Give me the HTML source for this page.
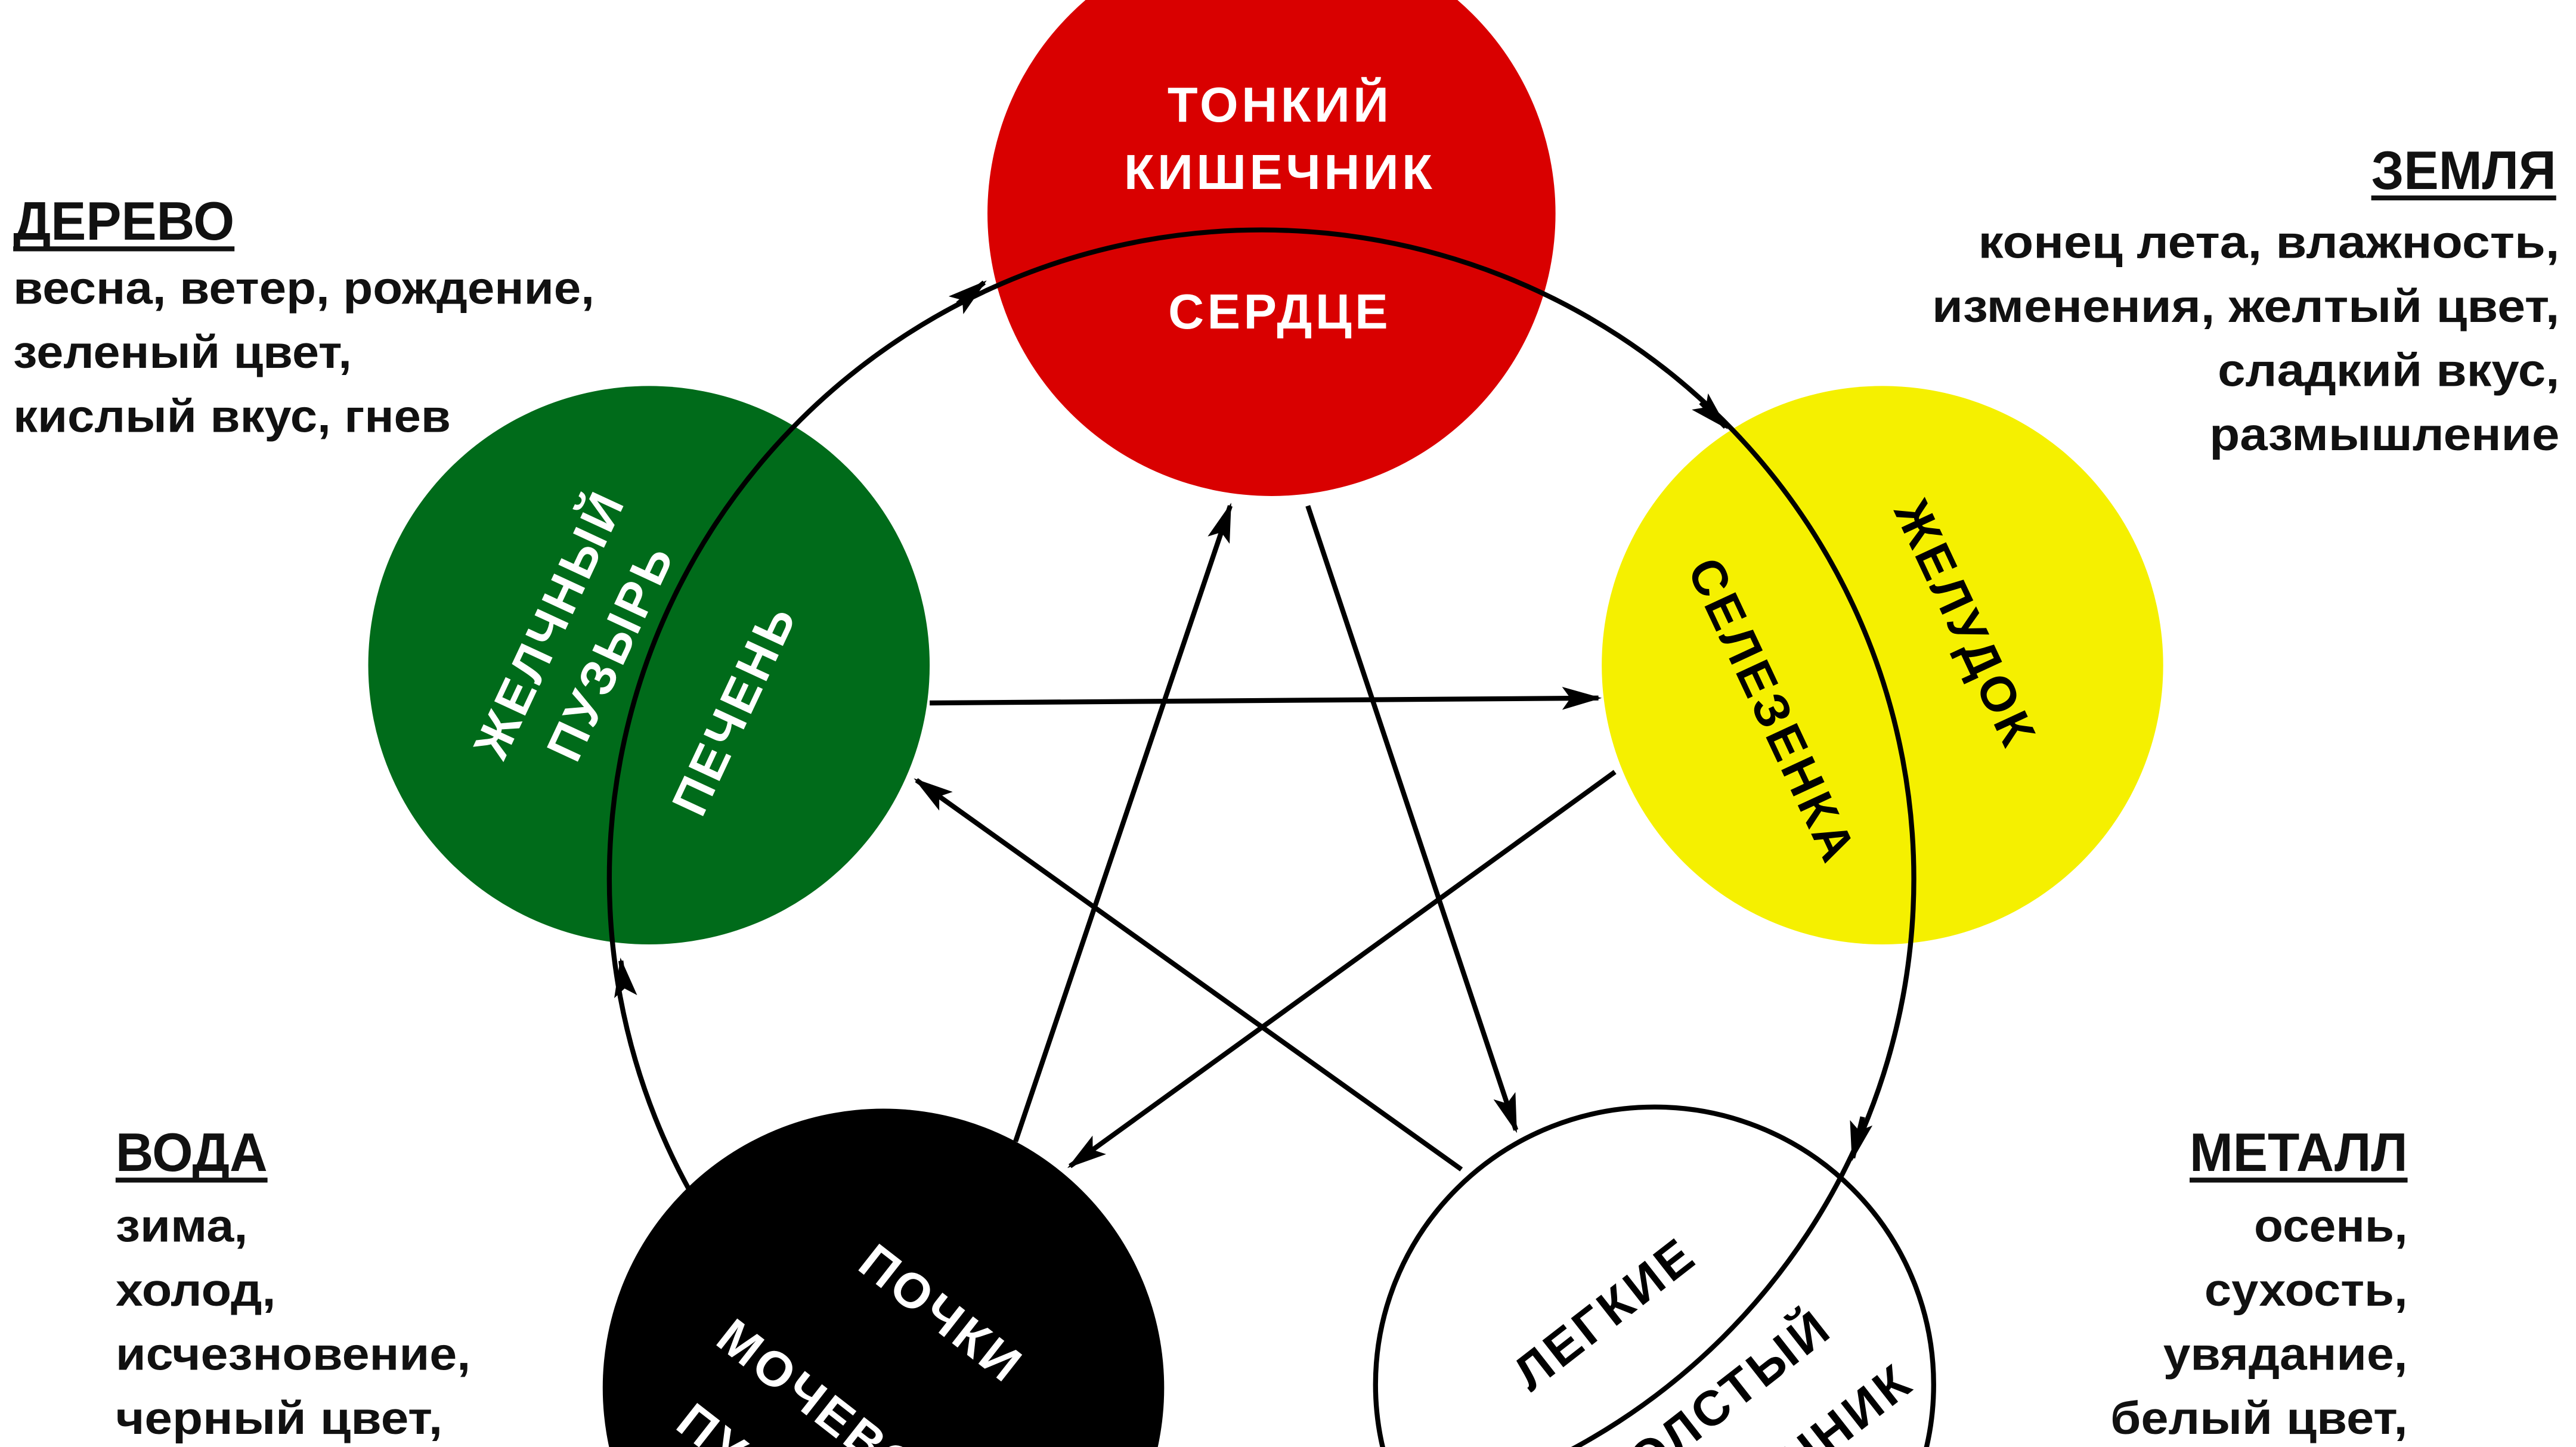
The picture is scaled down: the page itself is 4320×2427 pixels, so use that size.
<!DOCTYPE html>
<html><head><meta charset="utf-8"><style>
html,body{margin:0;padding:0;background:#fff;overflow:hidden;width:4320px;height:2427px}
svg{display:block;position:absolute;left:0;top:0}
text{font-family:"Liberation Sans","DejaVu Sans",sans-serif;font-weight:bold}
</style></head><body>
<svg width="4320" height="2427" viewBox="0 0 1560 881" preserveAspectRatio="none" xmlns="http://www.w3.org/2000/svg" overflow="hidden">
<defs>
<marker id="b" markerWidth="24" markerHeight="14" refX="22" refY="7" orient="auto" markerUnits="userSpaceOnUse" viewBox="0 0 24 14">
<path d="M0,0 L24,7 L0,14 L5,7 Z" fill="#000"/></marker>
<clipPath id="c"><rect width="1560" height="881"/></clipPath>
</defs>
<g clip-path="url(#c)">
<rect width="1560" height="881" fill="#fff"/>
<circle cx="770" cy="130" r="172" fill="#d90000"/>
<circle cx="393" cy="405" r="170" fill="#006b1a"/>
<circle cx="1140" cy="405" r="170" fill="#f5f000"/>
<circle cx="535" cy="845" r="170" fill="#000"/>
<circle cx="1002" cy="843" r="169" fill="#fff" stroke="#000" stroke-width="3"/>

<circle cx="764" cy="535" r="395" fill="none" stroke="#000" stroke-width="3"/>
<path d="M378,600 L376,585" stroke="#000" stroke-width="3" marker-end="url(#b)"/>
<path d="M580,185 L596,172" stroke="#000" stroke-width="3" marker-end="url(#b)"/>
<path d="M1030,245 L1045,260" stroke="#000" stroke-width="3" marker-end="url(#b)"/>
<path d="M1128,680 L1122,705" stroke="#000" stroke-width="3" marker-end="url(#b)"/>

<g stroke="#000" stroke-width="3" fill="none">
<line x1="563" y1="428" x2="968" y2="425" marker-end="url(#b)"/>
<line x1="978" y1="470" x2="648" y2="710" marker-end="url(#b)"/>
<line x1="615" y1="695" x2="745" y2="308" marker-end="url(#b)"/>
<line x1="792" y1="308" x2="918" y2="688" marker-end="url(#b)"/>
<line x1="885" y1="712" x2="555" y2="475" marker-end="url(#b)"/>
</g>

<g fill="#fff" font-size="30" text-anchor="middle" letter-spacing="2">
<text x="775" y="74">ТОНКИЙ</text>
<text x="775" y="115">КИШЕЧНИК</text>
<text x="775" y="200">СЕРДЦЕ</text>
<text transform="translate(333,380) rotate(-65)" y="10">ЖЕЛЧНЫЙ</text>
<text transform="translate(370,397) rotate(-65)" y="10">ПУЗЫРЬ</text>
<text transform="translate(445,432) rotate(-65)" y="10">ПЕЧЕНЬ</text>
<text transform="translate(570,800) rotate(38)" y="10">ПОЧКИ</text>
<text transform="translate(505,862) rotate(38)" y="10">МОЧЕВОЙ</text>
<text transform="translate(470,905) rotate(38)" y="10">ПУЗЫРЬ</text>
</g>
<g fill="#000" font-size="30" text-anchor="middle" letter-spacing="2">
<text transform="translate(1190,380) rotate(65)" y="10">ЖЕЛУДОК</text>
<text transform="translate(1073,433) rotate(65)" y="10">СЕЛЕЗЕНКА</text>
<text transform="translate(972,800) rotate(-38)" y="10">ЛЕГКИЕ</text>
<text transform="translate(1040,855) rotate(-38)" y="10">ТОЛСТЫЙ</text>
<text transform="translate(1080,895) rotate(-38)" y="10">КИШЕЧНИК</text>
</g>

<g fill="#111" font-size="28">
<text x="8" y="146" font-size="33" textLength="134" lengthAdjust="spacingAndGlyphs">ДЕРЕВО</text>
<rect x="8" y="150" width="134" height="3" fill="#111"/>
<text x="8" y="185" textLength="352" lengthAdjust="spacingAndGlyphs">весна, ветер, рождение,</text>
<text x="8" y="224" textLength="205" lengthAdjust="spacingAndGlyphs">зеленый цвет,</text>
<text x="8" y="263" textLength="265" lengthAdjust="spacingAndGlyphs">кислый вкус, гнев</text>

<text x="1436" y="115" font-size="33" textLength="112" lengthAdjust="spacingAndGlyphs">ЗЕМЛЯ</text>
<rect x="1436" y="119" width="112" height="3" fill="#111"/>
<text x="1198" y="157" textLength="352" lengthAdjust="spacingAndGlyphs">конец лета, влажность,</text>
<text x="1170" y="196" textLength="380" lengthAdjust="spacingAndGlyphs">изменения, желтый цвет,</text>
<text x="1343" y="235" textLength="207" lengthAdjust="spacingAndGlyphs">сладкий вкус,</text>
<text x="1338" y="274" textLength="212" lengthAdjust="spacingAndGlyphs">размышление</text>

<text x="70" y="713" font-size="33" textLength="92" lengthAdjust="spacingAndGlyphs">ВОДА</text>
<rect x="70" y="717" width="92" height="3" fill="#111"/>
<text x="70" y="756" textLength="80" lengthAdjust="spacingAndGlyphs">зима,</text>
<text x="70" y="795" textLength="97" lengthAdjust="spacingAndGlyphs">холод,</text>
<text x="70" y="834" textLength="215" lengthAdjust="spacingAndGlyphs">исчезновение,</text>
<text x="70" y="873" textLength="198" lengthAdjust="spacingAndGlyphs">черный цвет,</text>

<text x="1326" y="713" font-size="33" textLength="132" lengthAdjust="spacingAndGlyphs">МЕТАЛЛ</text>
<rect x="1326" y="717" width="132" height="3" fill="#111"/>
<text x="1365" y="756" textLength="93" lengthAdjust="spacingAndGlyphs">осень,</text>
<text x="1335" y="795" textLength="123" lengthAdjust="spacingAndGlyphs">сухость,</text>
<text x="1310" y="834" textLength="148" lengthAdjust="spacingAndGlyphs">увядание,</text>
<text x="1278" y="873" textLength="180" lengthAdjust="spacingAndGlyphs">белый цвет,</text>
</g>
</g>
</svg>
</body></html>
